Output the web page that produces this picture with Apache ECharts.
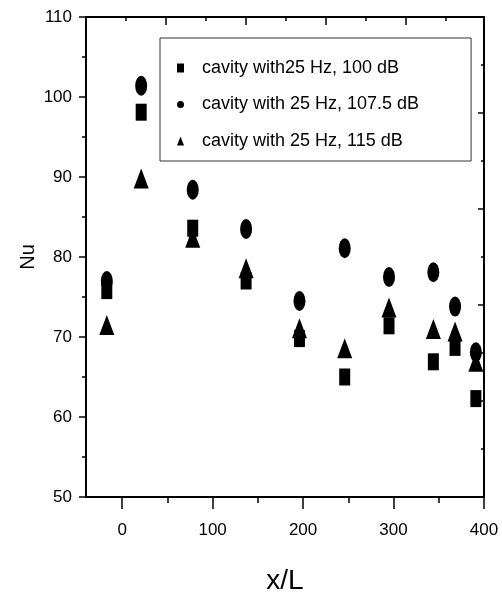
<!DOCTYPE html>
<html>
<head>
<meta charset="utf-8">
<script src="https://cdn.jsdelivr.net/npm/echarts@6/dist/echarts.min.js"></script>
<style>
  html, body { margin: 0; padding: 0; background: #fff; }
  #echart { width: 502px; height: 597px; }
</style>
</head>
<body>
<div id="echart"></div>
<script>
// x/L positions of the measurement stations
const xPos = [-17, 21, 78, 137, 196, 246, 295, 344, 368, 391];
// Nu for each excitation level
const nu100 = [75.8, 98.1, 83.6, 77.0, 69.8, 65.0, 71.4, 66.9, 68.7, 62.3];
const nu1075 = [77.0, 101.4, 88.4, 83.5, 74.5, 81.1, 77.5, 78.1, 73.8, 68.1];
const nu115 = [71.5, 89.8, 82.4, 78.6, 71.1, 68.6, 73.7, 71.0, 70.7, 66.9];
const seriesNames = ['cavity with25 Hz, 100 dB', 'cavity with 25 Hz, 107.5 dB', 'cavity with 25 Hz, 115 dB'];
// tick labels
const xTicks = [0, 100, 200, 300, 400];
const xMinorTicks = [50, 150, 250, 350];

const font = "'Liberation Sans', Arial, sans-serif";
const ellipse = 'path://M0,-1 A1,1 0 1,1 0,1 A1,1 0 1,1 0,-1 Z';

function pairs(vals) {
    return xPos.map(function (x, i) { return [x, vals[i]]; });
}

let myChart = echarts.init(document.getElementById('echart'));
var option = {
    backgroundColor: '#fff',
    animation: false,
    grid: { left: 86, right: 18, top: 17, bottom: 100, outerBoundsMode: 'none' },
    legend: {
        orient: 'vertical',
        left: 160,
        top: 38,
        padding: [21, 52, 11, 17],
        borderColor: '#333',
        borderWidth: 1,
        itemWidth: 7,
        itemHeight: 9,
        itemGap: 18.5,
        textStyle: { fontFamily: font, fontSize: 18, lineHeight: 18, color: '#000', padding: [0, 0, 0, 13] },
        data: [
            { name: seriesNames[0], icon: 'rect' },
            { name: seriesNames[1], icon: ellipse },
            { name: seriesNames[2], icon: 'triangle' }
        ]
    },
    xAxis: [{
        type: 'value',
        min: -40,
        max: 400,
        name: 'x/L',
        nameLocation: 'middle',
        nameGap: 70,
        nameMoveOverlap: false,
        nameTextStyle: { fontFamily: font, fontSize: 28, color: '#000' },
        axisLine: { onZero: false, lineStyle: { color: '#000', width: 2 } },
        axisTick: { inside: false, length: 12, customValues: xTicks, lineStyle: { color: '#000', width: 1.5 } },
        axisLabel: { customValues: xTicks, margin: 25, fontFamily: font, fontSize: 17, color: '#000' },
        splitLine: { show: false }
    }, {
        // top frame with its own tick spacing
        type: 'value',
        position: 'top',
        min: 0,
        max: 19.9,
        interval: 4,
        axisLine: { onZero: false, lineStyle: { color: '#000', width: 2 } },
        axisTick: { inside: true, length: 8, lineStyle: { color: '#000', width: 1.5 } },
        minorTick: { show: true, splitNumber: 2, length: 4, lineStyle: { color: '#000', width: 1.5 } },
        axisLabel: { show: false },
        splitLine: { show: false }
    }, {
        // minor ticks for the bottom axis
        type: 'value',
        position: 'bottom',
        min: -40,
        max: 400,
        axisLine: { show: false },
        axisTick: { inside: false, length: 6, customValues: xMinorTicks, lineStyle: { color: '#000', width: 1.5 } },
        axisLabel: { show: false },
        splitLine: { show: false }
    }],
    yAxis: [{
        type: 'value',
        min: 50,
        max: 110,
        interval: 10,
        name: 'Nu',
        nameLocation: 'middle',
        nameRotate: 90,
        nameGap: 48,
        nameMoveOverlap: false,
        nameTextStyle: { fontFamily: font, fontSize: 20, color: '#000' },
        axisLine: { onZero: false, lineStyle: { color: '#000', width: 2 } },
        axisTick: { inside: false, length: 7, lineStyle: { color: '#000', width: 1.5 } },
        minorTick: { show: true, splitNumber: 2, length: 4, lineStyle: { color: '#000', width: 1.5 } },
        axisLabel: { margin: 14, fontFamily: font, fontSize: 17, color: '#000' },
        splitLine: { show: false }
    }, {
        // right frame with its own tick spacing
        type: 'value',
        position: 'right',
        min: 50,
        max: 110,
        interval: 12,
        axisLine: { onZero: false, lineStyle: { color: '#000', width: 2 } },
        axisTick: { inside: true, length: 6, lineStyle: { color: '#000', width: 1.5 } },
        minorTick: { show: true, splitNumber: 2, length: 3, lineStyle: { color: '#000', width: 1.5 } },
        axisLabel: { show: false },
        splitLine: { show: false }
    }],
    series: [{
        name: seriesNames[0],
        type: 'scatter',
        symbol: 'rect',
        symbolSize: [11, 17],
        itemStyle: { color: '#000', opacity: 1 },
        data: pairs(nu100)
    }, {
        name: seriesNames[1],
        type: 'scatter',
        symbol: ellipse,
        symbolSize: [12, 20],
        itemStyle: { color: '#000', opacity: 1 },
        data: pairs(nu1075)
    }, {
        name: seriesNames[2],
        type: 'scatter',
        symbol: 'triangle',
        symbolSize: [15, 20],
        itemStyle: { color: '#000', opacity: 1 },
        data: pairs(nu115)
    }]
};
myChart.setOption(option);
</script>
</body>
</html>
